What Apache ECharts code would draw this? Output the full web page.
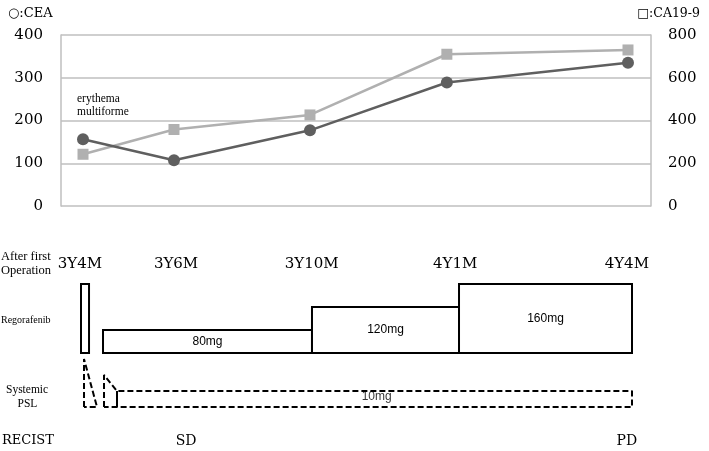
<!DOCTYPE html>
<html>
<head>
<meta charset="utf-8">
<script src="https://cdn.jsdelivr.net/npm/echarts@6/dist/echarts.min.js"></script>
<style>html,body{margin:0;padding:0;background:#fff;}#c{width:709px;height:451px;}</style>
</head>
<body>
<div id="c"></div>
<script>
// ---- data ----
const timePoints = [3.73, 19.15, 42.2, 65.4, 96.1];      // timeline position of each measurement
const ceaValues = [156, 107, 177, 289, 335];
const ca199Values = [242, 358, 426, 710, 730];
const timeLabels = ['3Y4M', '3Y6M', '3Y10M', '4Y1M', '4Y4M'];
const timeLabelPos = [3.2, 19.5, 42.5, 66.8, 95.9];
const regoStart = [3.39, 7.12, 42.54, 67.46];
const regoEnd = [4.75, 42.54, 67.46, 96.78];
const regoDose = [160, 80, 120, 160];
const regoLabels = ['', '80mg', '120mg', '160mg'];
const pslCourse1 = [[3.9, 0], [3.9, 30], [6.1, 0], [3.9, 0]];
const pslCourse2 = [[7.29, 0], [7.29, 20], [9.49, 10], [96.78, 10], [96.78, 0], [7.29, 0]];
const pslStep = [[9.49, 10], [9.49, 0]];
const pslLabel = '10mg';
const recistLabels = ['SD', 'PD'];
const recistPos = [21.2, 95.9];
const leftTicks = [0, 100, 200, 300, 400];
const rightTicks = [0, 200, 400, 600, 800];

const serif = 'DejaVu Serif';
const chart = echarts.init(document.getElementById('c'));

const rectData = regoStart.map((s, i) => [s, regoEnd[i], regoDose[i], regoLabels[i]]);

chart.setOption({
  animation: false,
  backgroundColor: '#fff',
  title: [
    { text: '○:CEA', left: 3, top: 2, textStyle: { fontFamily: serif, fontSize: 13, fontWeight: 'normal', color: '#000' } },
    { text: '□:CA19-9', right: 4, top: 2, textStyle: { fontFamily: serif, fontSize: 12.5, fontWeight: 'normal', color: '#000' } }
  ],
  grid: [
    { left: 61, right: 58, top: 35, bottom: 245 },
    { left: 61, right: 58, top: 284, bottom: 98 },
    { left: 61, right: 58, top: 359, bottom: 44 }
  ],
  xAxis: [
    { gridIndex: 0, type: 'value', min: 0, max: 100, show: false },
    {
      gridIndex: 1, type: 'value', min: 0, max: 100, position: 'top',
      axisLine: { show: false }, axisTick: { show: false }, splitLine: { show: false },
      axisLabel: {
        customValues: timeLabelPos, margin: 12,
        formatter: v => timeLabels[timeLabelPos.indexOf(v)] || '',
        fontFamily: serif, fontSize: 15, color: '#000'
      }
    },
    {
      gridIndex: 2, type: 'value', min: 0, max: 100, position: 'bottom',
      axisLine: { show: false }, axisTick: { show: false }, splitLine: { show: false },
      axisLabel: {
        customValues: recistPos, margin: 27,
        formatter: v => recistLabels[recistPos.indexOf(v)] || '',
        fontFamily: serif, fontSize: 14, color: '#000'
      }
    }
  ],
  yAxis: [
    {
      gridIndex: 0, type: 'value', min: 0, max: 400, interval: 100, position: 'left',
      axisLine: { show: true, lineStyle: { color: '#bfbfbf', width: 1.5 } }, axisTick: { show: false },
      splitLine: { lineStyle: { color: '#bfbfbf', width: 1.5 } },
      axisLabel: { fontFamily: serif, fontSize: 15, color: '#000', margin: 18 }
    },
    {
      gridIndex: 0, type: 'value', min: 0, max: 800, interval: 200, position: 'right',
      axisLine: { show: true, lineStyle: { color: '#bfbfbf', width: 1.5 } }, axisTick: { show: false },
      splitLine: { show: false },
      axisLabel: { fontFamily: serif, fontSize: 15, color: '#000', margin: 17 }
    },
    { gridIndex: 1, type: 'value', min: 40, max: 160, show: false },
    { gridIndex: 2, type: 'value', min: 0, max: 30, show: false }
  ],
  graphic: [
    { type: 'text', left: 77, top: 92, style: { text: 'erythema\nmultiforme', font: '11.5px "Liberation Serif"', lineHeight: 13, fill: '#000' } },
    { type: 'text', left: 1, top: 250, style: { text: 'After first\nOperation', font: '12.5px "Liberation Serif"', lineHeight: 14, fill: '#000' } },
    { type: 'text', left: 1, top: 315, style: { text: 'Regorafenib', font: '10px "Liberation Serif"', fill: '#000' } },
    { type: 'text', left: 6, top: 383, style: { text: 'Systemic\n    PSL', font: '11.5px "Liberation Serif"', lineHeight: 14, fill: '#000' } },
    { type: 'text', left: 2, top: 434, style: { text: 'RECIST', font: '13px "DejaVu Serif"', fill: '#000' } }
  ],
  series: [
    {
      name: 'CA19-9', type: 'line', xAxisIndex: 0, yAxisIndex: 1,
      data: timePoints.map((x, i) => [x, ca199Values[i]]),
      symbol: 'rect', symbolSize: 11, showSymbol: true,
      lineStyle: { color: '#b0b0b0', width: 2.5 }, itemStyle: { color: '#b0b0b0' }, z: 3
    },
    {
      name: 'CEA', type: 'line', xAxisIndex: 0, yAxisIndex: 0,
      data: timePoints.map((x, i) => [x, ceaValues[i]]),
      symbol: 'circle', symbolSize: 12, showSymbol: true,
      lineStyle: { color: '#5f5f5f', width: 2.5 }, itemStyle: { color: '#5f5f5f' }, z: 4
    },
    {
      name: 'Regorafenib', type: 'custom', xAxisIndex: 1, yAxisIndex: 2, clip: false,
      data: rectData,
      renderItem: function (params, api) {
        const p1 = api.coord([api.value(0), api.value(2)]);
        const p2 = api.coord([api.value(1), 40]);
        const lbl = regoLabels[params.dataIndex];
        return {
          type: 'rect',
          shape: { x: p1[0], y: p1[1], width: p2[0] - p1[0], height: p2[1] - p1[1] },
          style: { fill: '#fff', stroke: '#000', lineWidth: 2 },
          textContent: { style: { text: lbl, font: '12px "Liberation Sans"', fill: '#000' } },
          textConfig: { position: 'inside' }
        };
      }
    },
    {
      type: 'line', xAxisIndex: 2, yAxisIndex: 3, data: pslCourse1, symbol: 'none', clip: false,
      lineStyle: { color: '#000', width: 2, type: [6, 3] }
    },
    {
      type: 'line', xAxisIndex: 2, yAxisIndex: 3, data: pslCourse2, symbol: 'none', clip: false,
      lineStyle: { color: '#000', width: 2, type: [6, 3] }
    },
    {
      type: 'line', xAxisIndex: 2, yAxisIndex: 3, data: pslStep, symbol: 'none', clip: false,
      lineStyle: { color: '#000', width: 2 }
    },
    {
      type: 'scatter', xAxisIndex: 2, yAxisIndex: 3, symbolSize: 0,
      data: [[53.5, 6.5]],
      label: { show: true, formatter: pslLabel, position: 'inside', fontFamily: 'Liberation Sans', fontSize: 12, color: '#000' }
    }
  ]
});
</script>
</body>
</html>
